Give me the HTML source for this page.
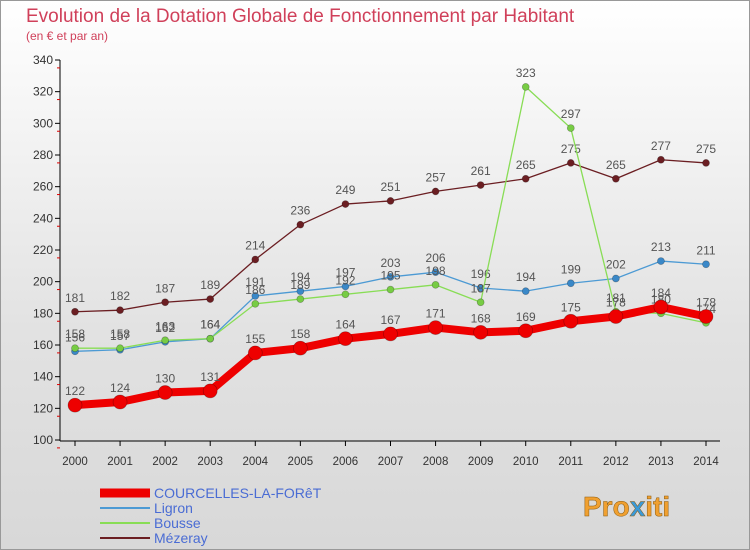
<!DOCTYPE html>
<html><head><meta charset="utf-8">
<style>
html,body{margin:0;padding:0;}
body{width:750px;height:550px;overflow:hidden;font-family:"Liberation Sans",sans-serif;}
#wrap{position:relative;width:748px;height:548px;border:1px solid #999;background:linear-gradient(#fff,#e2e2e2 60%,#d8d8d8);}
</style></head>
<body>
<div id="wrap">
<svg id="chart" width="750" height="550" style="position:absolute;left:-1px;top:-1px">
<text x="26" y="22" font-size="19" fill="#d0405a">Evolution de la Dotation Globale de Fonctionnement par Habitant</text>
<text x="26" y="40" font-size="12" fill="#d0405a">(en € et par an)</text>
<g id="axes"></g>
<g id="series"></g>
<g id="legend"></g>
<g>
<text x="583" y="516" font-size="28" font-weight="bold" fill="#f0a030" stroke="#8a5a10" stroke-width="0.5">Pro<tspan fill="#3a9ad9">x</tspan>iti</text>
</g>
</svg>
</div>
<script>
const years=[2000,2001,2002,2003,2004,2005,2006,2007,2008,2009,2010,2011,2012,2013,2014];
const yTicks=[100,120,140,160,180,200,220,240,260,280,300,320,340];
const courcelles=[122,124,130,131,155,158,164,167,171,168,169,175,178,184,178];
const ligron=[156,157,162,164,191,194,197,203,206,196,194,199,202,213,211];
const bousse=[158,158,163,164,186,189,192,195,198,187,323,297,181,180,174];
const mezeray=[181,182,187,189,214,236,249,251,257,261,265,275,265,277,275];
const NS='http://www.w3.org/2000/svg';
function xS(i){return 75+i*(706-75)/(years.length-1);}
function yS(v){return 440-(v-100)*(380/240);}
function mk(tag,attrs,parent,txt){const e=document.createElementNS(NS,tag);for(const k in attrs)e.setAttribute(k,attrs[k]);if(txt!==undefined)e.textContent=txt;parent.appendChild(e);return e;}
const axes=document.getElementById('axes');
let l=mk('line',{x1:60,y1:60,x2:60,y2:441,stroke:'#000'},axes);


l=mk('line',{x1:60,y1:441,x2:720,y2:441,stroke:'#000'},axes);


yTicks.forEach(v=>{const y=yS(v);
 mk('line',{x1:55,y1:y,x2:60,y2:y,stroke:'#000'},axes);
 mk('line',{x1:57,y1:y+15.8/2,x2:60,y2:y+15.8/2,stroke:'#d00'},axes);
 const t=mk('text',{x:53,y:y+4,'font-size':12,'text-anchor':'end',fill:'#333'},axes,v);
 
 
});
years.forEach((yr,i)=>{const x=xS(i);
 mk('line',{x1:x,y1:441,x2:x,y2:446,stroke:'#000'},axes);
 const t=mk('text',{x:x,y:465,'font-size':11.5,'text-anchor':'middle',fill:'#333'},axes,yr);
 
 
});
const series=document.getElementById('series');
function draw(name,data,color,w,r,dot){
 const g=mk('g',{},series);
 
 
 mk('polyline',{points:data.map((v,i)=>xS(i)+','+yS(v)).join(' '),fill:'none',stroke:color,'stroke-width':w,'stroke-linejoin':'round'},g);
 data.forEach((v,i)=>{
  const c=mk('circle',{cx:xS(i),cy:yS(v),r:r,fill:dot,stroke:'rgba(0,0,0,0.3)','stroke-width':0.7},g);
  
  
  const t=mk('text',{x:xS(i),y:yS(v)-10,'font-size':12,'text-anchor':'middle',fill:'#555'},g,v);
  
  
 });
}
draw('mezeray',mezeray,'#6b1e22',1.3,3.5,'#6b1e22');
draw('ligron',ligron,'#4c9ad4',1.3,3.5,'#3a88c8');
draw('bousse',bousse,'#88dd55',1.3,3.5,'#77cc44');
draw('courcelles',courcelles,'#ee0000',8,7,'#ee0000');
const legend=document.getElementById('legend');
const items=[['COURCELLES-LA-FORêT','#ee0000',9],['Ligron','#4c9ad4',2],['Bousse','#88dd55',2],['Mézeray','#6b1e22',2]];
items.forEach((it,k)=>{const y=493+k*15;
 const g=mk('g',{},legend);
 
 
 mk('line',{x1:100,y1:y,x2:150,y2:y,stroke:it[1],'stroke-width':it[2]},g);
 mk('text',{x:154,y:y+5,'font-size':14,fill:'#4a6cd4'},g,it[0]);
});
</script>
</body></html>
